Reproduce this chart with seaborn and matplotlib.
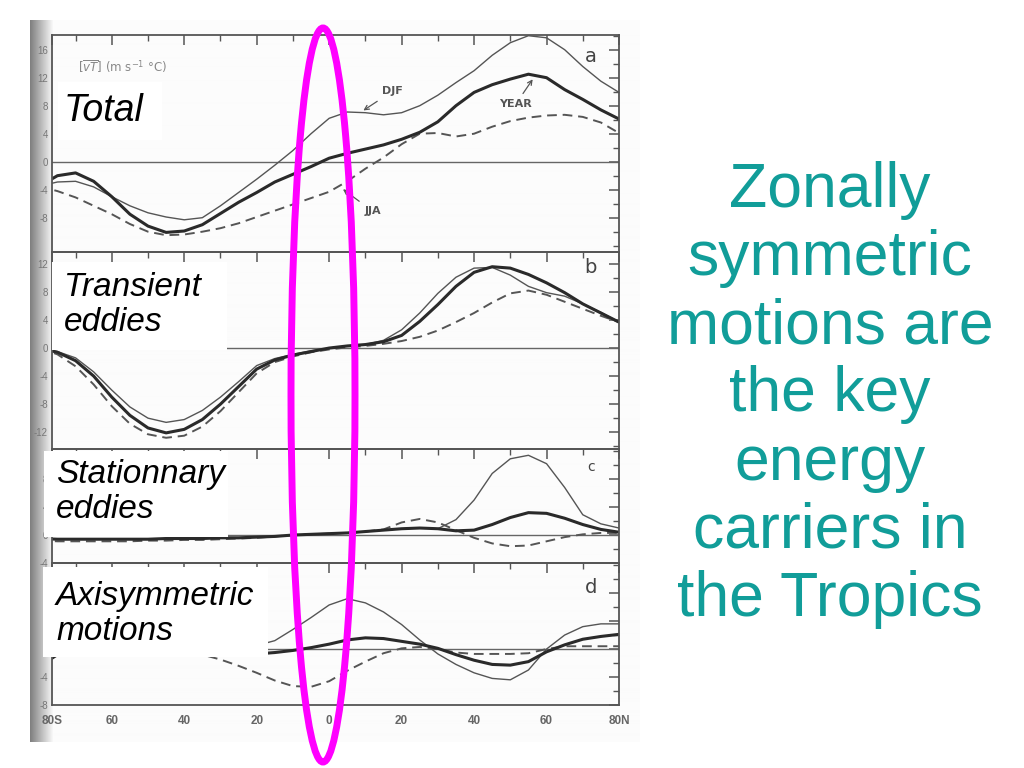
import numpy as np
import pandas as pd
import matplotlib
matplotlib.use("Agg")
import matplotlib.pyplot as plt
from matplotlib.patches import Ellipse, Rectangle
from matplotlib.ticker import MultipleLocator, FixedLocator
import seaborn as sns

sns.set_theme(style="white")
plt.rcParams['font.family'] = ['Liberation Sans', 'DejaVu Sans']
plt.rcParams['axes.unicode_minus'] = False

# latitude grid, 80S .. 80N every 5 degrees
lat = list(range(-80, 85, 5))

# (a) total [vT]
total_year = [-3.5, -2.0, -1.6, -2.8, -5.0, -7.5, -9.2, -10.1, -9.9, -9.0, -7.4, -5.8, -4.4, -2.9, -1.8, -0.7,
              0.5, 1.2, 1.8, 2.4, 3.2, 4.2, 5.7, 8.0, 9.9, 11.0, 11.8, 12.5, 12.0, 10.3, 8.9, 7.4, 6.1]
total_djf = [-3.5, -2.9, -2.8, -3.6, -5.0, -6.3, -7.3, -7.9, -8.3, -8.0, -6.3, -4.4, -2.5, -0.5, 1.6, 4.0,
             6.2, 7.1, 7.0, 6.7, 7.0, 8.0, 9.5, 11.3, 13.0, 15.2, 17.0, 18.0, 17.7, 16.0, 13.6, 11.5, 9.9]
total_jja = [-3.5, -4.2, -5.1, -6.3, -7.5, -8.9, -10.0, -10.5, -10.4, -10.0, -9.5, -8.8, -7.9, -7.0, -6.1, -5.2,
             -4.3, -2.8, -1.0, 0.6, 2.5, 4.0, 4.1, 3.6, 4.0, 5.0, 5.8, 6.3, 6.6, 6.7, 6.4, 5.6, 4.1]

# (b) transient eddies
trans_year = [0.0, -0.6, -1.8, -4.0, -7.0, -9.6, -11.4, -12.1, -11.6, -10.2, -8.0, -5.5, -3.0, -1.7, -1.0, -0.5,
              0.0, 0.3, 0.5, 0.9, 1.8, 3.8, 6.2, 8.8, 10.8, 11.6, 11.4, 10.5, 9.3, 7.9, 6.3, 5.0, 3.7]
trans_djf = [0.0, -0.5, -1.4, -3.4, -6.0, -8.4, -10.0, -10.6, -10.2, -8.9, -7.0, -4.8, -2.5, -1.5, -0.9, -0.4,
             0.0, 0.3, 0.5, 1.1, 2.6, 5.0, 7.8, 10.1, 11.4, 11.5, 10.4, 8.8, 7.9, 7.4, 6.3, 5.1, 3.7]
trans_jja = [0.0, -0.9, -2.6, -5.2, -8.3, -10.8, -12.3, -12.8, -12.5, -11.2, -9.0, -6.3, -3.6, -2.0, -1.2, -0.6,
             -0.2, 0.1, 0.3, 0.6, 1.0, 1.6, 2.5, 3.7, 5.0, 6.5, 7.8, 8.2, 7.6, 6.6, 5.6, 4.6, 3.7]

# (c) stationary eddies
stat_year = [-0.5, -0.6, -0.6, -0.6, -0.6, -0.6, -0.6, -0.5, -0.5, -0.5, -0.4, -0.4, -0.3, -0.2, 0.0, 0.1,
             0.2, 0.3, 0.5, 0.7, 0.9, 1.0, 0.9, 0.6, 0.7, 1.5, 2.5, 3.2, 3.1, 2.4, 1.5, 0.8, 0.4]
stat_djf = [-0.5, -0.6, -0.6, -0.6, -0.6, -0.6, -0.6, -0.5, -0.5, -0.5, -0.4, -0.4, -0.3, -0.2, 0.0, 0.1,
            0.2, 0.3, 0.5, 0.7, 0.9, 1.0, 0.9, 2.2, 5.0, 8.8, 10.9, 11.4, 10.2, 6.8, 2.9, 1.6, 1.0]
stat_jja = [-0.8, -0.9, -0.9, -0.9, -0.9, -0.9, -0.8, -0.8, -0.7, -0.7, -0.6, -0.5, -0.4, -0.2, 0.0, 0.1,
            0.2, 0.3, 0.5, 0.8, 1.8, 2.3, 1.8, 0.7, -0.4, -1.2, -1.6, -1.5, -0.9, -0.3, 0.1, 0.3, 0.3]

# (d) axisymmetric (mean meridional) motions
axi_year = [-2.5, -0.8, -0.3, -0.4, -0.5, -0.5, -0.6, -0.6, -0.7, -0.7, -0.7, -0.7, -0.7, -0.5, -0.2, 0.2,
            0.7, 1.3, 1.6, 1.5, 1.1, 0.7, 0.1, -0.8, -1.6, -2.2, -2.3, -1.8, -0.4, 0.6, 1.4, 1.8, 2.1]
axi_djf = [-2.5, -0.8, 0.2, 0.4, 0.5, 0.5, 0.5, 0.4, 0.4, 0.4, 0.4, 0.4, 0.5, 1.2, 2.8, 4.5,
           6.3, 7.2, 6.6, 5.3, 3.5, 1.3, -0.7, -2.2, -3.4, -4.2, -4.4, -3.0, 0.0, 2.0, 3.2, 3.6, 3.6]
axi_jja = [-1.5, -0.5, 0.0, 0.2, 0.3, 0.3, 0.2, 0.0, -0.3, -0.8, -1.5, -2.4, -3.4, -4.5, -5.3, -5.4,
           -4.6, -3.1, -1.8, -0.6, 0.1, 0.3, 0.0, -0.5, -0.7, -0.7, -0.7, -0.6, 0.0, 0.4, 0.4, 0.4, 0.4]

x_ticks = [-76.5, -60, -40, -20, 0, 20, 40, 60, 80]
x_labels = ['80S', '60', '40', '20', '0', '20', '40', '60', '80N']
y_labels = [[16, 12, 8, 4, 0, -4, -8],
            [12, 8, 4, 0, -4, -8, -12],
            [8, 4, 0, -4],
            [8, 4, 0, -4, -8]]
panel_names = ['Total', 'Transient\neddies', 'Stationnary\neddies', 'Axisymmetric\nmotions']
panel_letters = ['a', 'b', 'c', 'd']
message = "Zonally\nsymmetric\nmotions are\nthe key\nenergy\ncarriers in\nthe Tropics"

W, H = 1024, 768


def fig_rect(x0, y0, x1, y1):
    # pixel box (top-left origin) -> figure fraction rect
    return [x0 / W, 1 - y1 / H, (x1 - x0) / W, (y1 - y0) / H]


fig = plt.figure(figsize=(10.24, 7.68), dpi=100)
fig.patch.set_facecolor('white')

# scanned page background with binding shadow on the left
bg = fig.add_axes(fig_rect(30, 20, 640, 742), zorder=-5)
grad = np.ones((2, 610)) * 0.985
grad[:, :24] = np.linspace(0.5, 0.985, 24)
bg.imshow(grad, cmap='gray', vmin=0, vmax=1, aspect='auto', interpolation='bilinear')
bg.axis('off')

panels = [
    (fig_rect(52, 35, 619, 252), (-12.9, 18.1), total_year, total_djf, total_jja),
    (fig_rect(52, 252, 619, 449), (-14.4, 13.7), trans_year, trans_djf, trans_jja),
    (fig_rect(52, 449, 619, 563), (-4.0, 12.3), stat_year, stat_djf, stat_jja),
    (fig_rect(52, 563, 619, 705), (-8.0, 12.3), axi_year, axi_djf, axi_jja),
]

axes = []
for i, (rect, ylim, yr, djf, jja) in enumerate(panels):
    ax = fig.add_axes(rect)
    ax.set_facecolor('none')
    ax.axhline(0, color='#666666', lw=1.0, zorder=1)
    sns.lineplot(x=lat, y=djf, ax=ax, color='#555555', linewidth=1.0)
    sns.lineplot(x=lat, y=jja, ax=ax, color='#555555', linewidth=1.4, linestyle=(0, (5, 3)))
    sns.lineplot(x=lat, y=yr, ax=ax, color='#2a2a2a', linewidth=2.2)
    ax.set_xlim(-76.5, 80)
    ax.set_ylim(*ylim)
    ax.set_xlabel('')
    ax.set_ylabel('')
    ax.xaxis.set_major_locator(FixedLocator(x_ticks))
    ax.xaxis.set_minor_locator(MultipleLocator(10))
    ax.yaxis.set_major_locator(FixedLocator(y_labels[i]))
    ax.yaxis.set_minor_locator(MultipleLocator(2))
    ax.tick_params(which='both', direction='in', top=True, right=True, color='#555555',
                   labelsize=7, labelcolor='#777777', pad=3)
    ax.tick_params(which='major', length=7, width=1.1)
    ax.tick_params(which='minor', length=4, width=1.0)
    ax.yaxis.set_major_formatter(lambda v, p: f"{v:g}")
    for s in ax.spines.values():
        s.set_color('#555555')
        s.set_linewidth(1.3)
    if i < 3:
        ax.set_xticklabels([])
    else:
        ax.set_xticklabels(x_labels, fontsize=8.5, color='#666666', fontweight='bold')
        ax.tick_params(axis='x', which='major', pad=7)
    ax.text(0.95, [0.90, 0.92, 0.84, 0.83][i], panel_letters[i], transform=ax.transAxes,
            ha='center', va='center', fontsize=[14, 14, 10, 14][i], color='#444444',
            family=['DejaVu Sans'])
    axes.append(ax)

# labels inside panel (a)
ax_a = axes[0]
ax_a.text(0.045, 0.83, r"[$\overline{vT}$] (m s$^{-1}$ °C)", transform=ax_a.transAxes,
          fontsize=8.5, color='#888888', family=['DejaVu Sans'])
arrow = dict(arrowstyle='->', color='#555555', lw=0.9)
ax_a.annotate('DJF', xy=(8.8, 7.1), xytext=(14.5, 9.6), fontsize=8, color='#555555',
              fontweight='bold', family=['DejaVu Sans'], arrowprops=arrow)
ax_a.annotate('YEAR', xy=(56.6, 12.1), xytext=(47.0, 7.8), fontsize=8, color='#555555',
              fontweight='bold', family=['DejaVu Sans'], arrowprops=arrow)
ax_a.annotate('JJA', xy=(3.2, -3.7), xytext=(9.7, -7.5), fontsize=8, color='#555555',
              fontweight='bold', family=['DejaVu Sans'], arrowprops=arrow)

# white label boxes laid over the scan
boxes = [(58, 82, 162, 140), (52, 262, 227, 350), (44, 451, 228, 537), (43, 567, 268, 657)]
text_pos = [(64, 111), (64, 305), (56, 492), (56, 614)]
text_size = [27, 24, 24, 24]
for (x0, y0, x1, y1), (tx, ty), name, fs in zip(boxes, text_pos, panel_names, text_size):
    r = fig_rect(x0, y0, x1, y1)
    fig.add_artist(Rectangle((r[0], r[1]), r[2], r[3], transform=fig.transFigure,
                             facecolor='white', edgecolor='none', zorder=5))
    fig.text(tx / W, 1 - ty / H, name, ha='left', va='center', fontsize=fs, style='italic',
             color='black', linespacing=1.18, zorder=6)

# highlight of the tropics
fig.add_artist(Ellipse((323 / W, 1 - 395 / H), 64 / W, 734 / H, transform=fig.transFigure,
                       fill=False, edgecolor='#ff00ff', linewidth=5, zorder=10))

fig.text(830 / W, 1 - 395 / H, message, ha='center', va='center', multialignment='center',
         fontsize=45, color='#119d99', linespacing=1.2)

fig.savefig('out.png', dpi=100)
